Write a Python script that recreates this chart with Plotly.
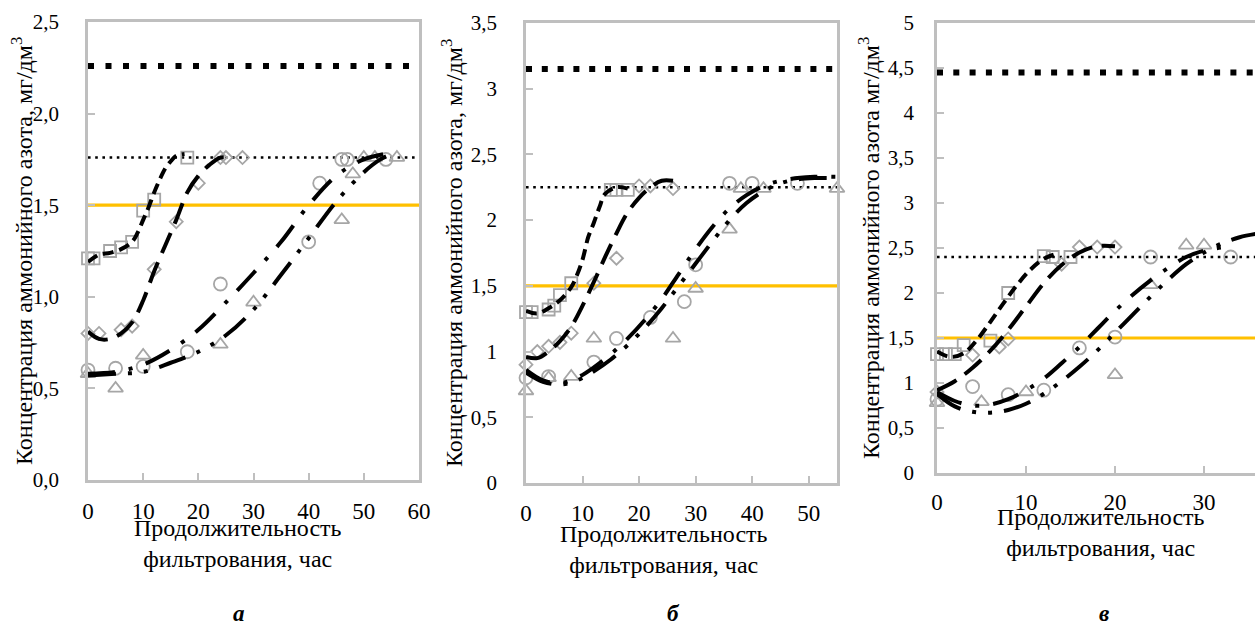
import plotly.graph_objects as go

# ---------------- DATA ----------------
# Panel a
a_sq_t = [0, 1, 4, 6, 8, 10, 12, 18]
a_sq_v = [1.21, 1.21, 1.25, 1.27, 1.30, 1.47, 1.53, 1.76]
a_di_t = [0, 2, 6, 8, 12, 16, 20, 24, 25, 28]
a_di_v = [0.80, 0.80, 0.82, 0.84, 1.15, 1.41, 1.62, 1.76, 1.76, 1.76]
a_ci_t = [0, 5, 10, 18, 24, 40, 42, 46, 47, 54]
a_ci_v = [0.60, 0.61, 0.62, 0.70, 1.07, 1.30, 1.62, 1.75, 1.75, 1.75]
a_tr_t = [0, 5, 10, 24, 30, 46, 48, 50, 52, 56]
a_tr_v = [0.58, 0.50, 0.68, 0.74, 0.97, 1.42, 1.67, 1.76, 1.76, 1.76]
a_sq_fit_t = [0, 2, 4, 6, 8, 9, 10, 11, 12, 13, 14, 15, 16, 17.5]
a_sq_fit_v = [1.19, 1.23, 1.24, 1.26, 1.30, 1.35, 1.42, 1.49, 1.57, 1.64, 1.70, 1.74, 1.77, 1.78]
a_di_fit_t = [0, 2, 4, 6, 8, 10, 12, 14, 16, 18, 20, 22, 24, 25.5]
a_di_fit_v = [0.81, 0.77, 0.77, 0.80, 0.86, 0.98, 1.14, 1.28, 1.42, 1.57, 1.66, 1.72, 1.76, 1.76]
a_ci_fit_t = [0, 5, 10, 15, 20, 25, 30, 35, 40, 45, 50, 56]
a_ci_fit_v = [0.58, 0.59, 0.63, 0.71, 0.82, 0.97, 1.13, 1.30, 1.50, 1.66, 1.75, 1.79]
a_tr_fit_t = [0, 5, 10, 15, 20, 25, 30, 35, 40, 45, 50, 53, 56]
a_tr_fit_v = [0.57, 0.58, 0.59, 0.64, 0.70, 0.79, 0.93, 1.12, 1.32, 1.52, 1.68, 1.75, 1.79]
a_levels = [2.26, 1.76, 1.5]

# Panel b
b_sq_t = [0, 1, 4, 5, 6, 8, 15, 16, 18]
b_sq_v = [1.30, 1.30, 1.32, 1.35, 1.43, 1.52, 2.23, 2.23, 2.23]
b_di_t = [0, 2, 4, 6, 8, 12, 16, 20, 22, 26]
b_di_v = [0.90, 1.00, 1.04, 1.07, 1.14, 1.52, 1.71, 2.26, 2.26, 2.24]
b_ci_t = [0, 4, 12, 16, 22, 28, 30, 36, 40, 48]
b_ci_v = [0.80, 0.81, 0.92, 1.10, 1.26, 1.38, 1.66, 2.28, 2.28, 2.28]
b_tr_t = [0, 4, 8, 12, 26, 30, 36, 38, 42, 55]
b_tr_v = [0.70, 0.80, 0.81, 1.10, 1.10, 1.48, 1.93, 2.24, 2.24, 2.24]
b_sq_fit_t = [0, 2, 4, 6, 8, 9, 10, 11, 12, 13, 14, 16, 18]
b_sq_fit_v = [1.31, 1.29, 1.33, 1.39, 1.49, 1.58, 1.70, 1.87, 1.98, 2.10, 2.20, 2.25, 2.24]
b_di_fit_t = [0, 2, 4, 6, 8, 10, 12, 14, 16, 18, 20, 22, 24, 26]
b_di_fit_v = [0.96, 0.95, 1.00, 1.08, 1.19, 1.35, 1.53, 1.72, 1.90, 2.06, 2.17, 2.25, 2.30, 2.30]
b_ci_fit_t = [0, 3, 6, 9, 12, 15, 18, 21, 24, 27, 30, 33, 36, 39, 42, 45, 48, 51, 55]
b_ci_fit_v = [0.86, 0.78, 0.76, 0.80, 0.88, 0.98, 1.10, 1.24, 1.40, 1.59, 1.78, 1.95, 2.09, 2.19, 2.26, 2.30, 2.32, 2.33, 2.33]
b_tr_fit_t = [0, 3, 6, 9, 12, 15, 18, 21, 24, 27, 30, 33, 36, 39, 42, 45, 48, 51, 55]
b_tr_fit_v = [0.84, 0.77, 0.75, 0.78, 0.85, 0.94, 1.05, 1.18, 1.33, 1.50, 1.67, 1.84, 2.00, 2.13, 2.22, 2.28, 2.31, 2.32, 2.32]
b_levels = [3.15, 2.25, 1.5]

# Panel c
c_sq_t = [0, 1, 2, 3, 6, 8, 12, 13, 15]
c_sq_v = [1.32, 1.32, 1.32, 1.42, 1.47, 2.00, 2.41, 2.40, 2.40]
c_di_t = [0, 4, 7, 8, 14, 16, 18, 20]
c_di_v = [0.90, 1.31, 1.40, 1.49, 2.32, 2.51, 2.51, 2.51]
c_ci_t = [0, 4, 8, 12, 16, 20, 24, 33]
c_ci_v = [0.82, 0.96, 0.87, 0.92, 1.39, 1.51, 2.40, 2.40]
c_tr_t = [0, 5, 10, 20, 24, 28, 30, 36]
c_tr_v = [0.78, 0.79, 0.90, 1.09, 2.09, 2.53, 2.53, 2.52]
c_sq_fit_t = [0, 1.5, 3, 4.5, 6, 7.5, 9, 10.5, 12, 13.6]
c_sq_fit_v = [1.35, 1.29, 1.33, 1.48, 1.68, 1.89, 2.09, 2.26, 2.38, 2.44]
c_di_fit_t = [0, 2, 4, 6, 8, 10, 12, 14, 16, 18, 20]
c_di_fit_v = [0.92, 1.02, 1.17, 1.36, 1.59, 1.85, 2.11, 2.31, 2.45, 2.52, 2.52]
c_ci_fit_t = [0, 2, 4, 6, 8, 10, 12, 14, 16, 18, 20, 22, 24, 26, 28, 30, 33]
c_ci_fit_v = [0.90, 0.80, 0.75, 0.76, 0.82, 0.92, 1.05, 1.22, 1.40, 1.60, 1.80, 1.98, 2.14, 2.28, 2.40, 2.47, 2.52]
c_tr_fit_t = [0, 2, 4, 6, 8, 10, 12, 14, 16, 18, 20, 22, 24, 26, 28, 30, 32, 34, 36]
c_tr_fit_v = [0.88, 0.74, 0.68, 0.67, 0.70, 0.77, 0.88, 1.02, 1.18, 1.36, 1.56, 1.76, 1.96, 2.15, 2.32, 2.45, 2.55, 2.62, 2.66]
c_levels = [4.45, 2.40, 1.5]

x_ranges = [[0, 60], [0, 55], [0, 35.73]]
y_ranges = [[0, 2.5], [0, 3.5], [0, 5]]
x_ticks = [[0, 10, 20, 30, 40, 50, 60], [0, 10, 20, 30, 40, 50], [0, 10, 20, 30]]
y_ticks = [[0, 0.5, 1, 1.5, 2, 2.5], [0, 0.5, 1, 1.5, 2, 2.5, 3, 3.5],
           [0, 0.5, 1, 1.5, 2, 2.5, 3, 3.5, 4, 4.5, 5]]
y_titles = ["Концентрация аммонийного азота, мг/дм<sup>3</sup>",
            "Концентрация аммонийного азота, мг/дм<sup>3</sup>",
            "Концентрация аммонийного азота мг/дм<sup>3</sup>"]
x_title = "Продолжительность<br>фильтрования, час"
panel_letters = ["а", "б", "в"]

# ---------------- STYLE ----------------
W, H = 1255, 621
FONT = "Liberation Serif"
GRAY = "#A6A6A6"
AXIS = "#BFBFBF"
ORANGE = "#FFC000"
FIT_W = 4
big_dot_dash = ["6px,11.5px", "6px,9.8px", "6px,10.3px"]
# pixel geometry of the three plot areas: (left, right, top, bottom)
boxes = [(88, 419, 22, 480), (526, 837, 23, 483), (937, 1255, 23, 473)]
ytitle_x = [22, 452, 869]
xtitle_pos = [(238, 513), (664, 519), (1101, 502)]
letter_pos = [(239, 613), (673, 613), (1104, 613)]
ytick_standoff = [22, 22, 16]
xtick_standoff = [9, 8, 7]

panels = [
    dict(sq=(a_sq_t, a_sq_v), di=(a_di_t, a_di_v), ci=(a_ci_t, a_ci_v), tr=(a_tr_t, a_tr_v),
         sqf=(a_sq_fit_t, a_sq_fit_v), dif=(a_di_fit_t, a_di_fit_v),
         cif=(a_ci_fit_t, a_ci_fit_v), trf=(a_tr_fit_t, a_tr_fit_v), lv=a_levels),
    dict(sq=(b_sq_t, b_sq_v), di=(b_di_t, b_di_v), ci=(b_ci_t, b_ci_v), tr=(b_tr_t, b_tr_v),
         sqf=(b_sq_fit_t, b_sq_fit_v), dif=(b_di_fit_t, b_di_fit_v),
         cif=(b_ci_fit_t, b_ci_fit_v), trf=(b_tr_fit_t, b_tr_fit_v), lv=b_levels),
    dict(sq=(c_sq_t, c_sq_v), di=(c_di_t, c_di_v), ci=(c_ci_t, c_ci_v), tr=(c_tr_t, c_tr_v),
         sqf=(c_sq_fit_t, c_sq_fit_v), dif=(c_di_fit_t, c_di_fit_v),
         cif=(c_ci_fit_t, c_ci_fit_v), trf=(c_tr_fit_t, c_tr_fit_v), lv=c_levels),
]

fig = go.Figure()
annotations = []
layout_axes = {}

for i, p in enumerate(panels):
    sfx = "" if i == 0 else str(i + 1)
    xa, ya = "x" + sfx, "y" + sfx
    xr = x_ranges[i]
    # horizontal reference levels
    hi, mid, norm = p["lv"]
    fig.add_trace(go.Scatter(x=xr, y=[hi, hi], xaxis=xa, yaxis=ya, mode="lines",
                             line=dict(color="black", width=6, dash=big_dot_dash[i]),
                             cliponaxis=False, hoverinfo="skip"))
    fig.add_trace(go.Scatter(x=xr, y=[mid, mid], xaxis=xa, yaxis=ya, mode="lines",
                             line=dict(color="black", width=2.6, dash="2.6px,4.6px"),
                             hoverinfo="skip"))
    fig.add_trace(go.Scatter(x=xr, y=[norm, norm], xaxis=xa, yaxis=ya, mode="lines",
                             line=dict(color=ORANGE, width=3.2), hoverinfo="skip"))
    # measured points
    for key, sym, size in [("sq", "square-open", 12), ("di", "diamond-open", 10),
                           ("ci", "circle-open", 13), ("tr", "triangle-up-open", 13)]:
        t, v = p[key]
        fig.add_trace(go.Scatter(x=t, y=v, xaxis=xa, yaxis=ya, mode="markers",
                                 marker=dict(symbol=sym, size=size, color=GRAY,
                                             line=dict(color=GRAY, width=1.8)),
                                 cliponaxis=False))
    # trend lines
    for key, dash in [("sqf", "11px,6px"), ("dif", "22px,10px"),
                      ("cif", "27px,14px,4px,14px"),
                      ("trf", "28px,12px,4px,12px,4px,12px")]:
        t, v = p[key]
        fig.add_trace(go.Scatter(x=t, y=v, xaxis=xa, yaxis=ya, mode="lines",
                                 line=dict(color="black", width=FIT_W, dash=dash,
                                           shape="spline", smoothing=1.0),
                                 cliponaxis=False, hoverinfo="skip"))

    l, r, t_, b = boxes[i]
    dx = [l / W, r / W]
    dy = [1 - b / H, 1 - t_ / H]
    xkey = "xaxis" + sfx
    ykey = "yaxis" + sfx
    layout_axes[xkey] = dict(domain=dx, range=xr, anchor=ya, tickvals=x_ticks[i],
                             automargin=False,
                             ticks="inside", ticklen=7, tickwidth=1.5, tickcolor=AXIS,
                             showline=True, linecolor=AXIS, linewidth=2.5, mirror=True,
                             showgrid=False, zeroline=False,
                             ticklabelstandoff=xtick_standoff[i],
                             tickfont=dict(family=FONT, size=23, color="black"))
    layout_axes[ykey] = dict(domain=dy, range=y_ranges[i], anchor=xa, tickvals=y_ticks[i],
                             automargin=False,
                             tickformat=".1f" if i == 0 else "",
                             ticks="inside", ticklen=7, tickwidth=1.5, tickcolor=AXIS,
                             showline=True, linecolor=AXIS, linewidth=2.5,
                             mirror=(i != 2), showgrid=False, zeroline=False,
                             ticklabelstandoff=ytick_standoff[i],
                             tickfont=dict(family=FONT, size=21, color="black"))
    annotations.append(dict(text=y_titles[i], xref="paper", yref="paper",
                            x=ytitle_x[i] / W, y=1 - (t_ + b) / 2 / H, textangle=-90,
                            xanchor="center", yanchor="middle", showarrow=False,
                            font=dict(family=FONT, size=24, color="black")))
    annotations.append(dict(text=x_title, xref="paper", yref="paper",
                            x=xtitle_pos[i][0] / W, y=1 - xtitle_pos[i][1] / H,
                            xanchor="center", yanchor="top", showarrow=False,
                            font=dict(family=FONT, size=24, color="black")))
    annotations.append(dict(text="<b><i>" + panel_letters[i] + "</i></b>", xref="paper",
                            yref="paper", x=letter_pos[i][0] / W, y=1 - letter_pos[i][1] / H,
                            xanchor="center", yanchor="middle", showarrow=False,
                            font=dict(family=FONT, size=23, color="black")))

fig.update_layout(width=W, height=H, margin=dict(l=0, r=0, t=0, b=0),
                  paper_bgcolor="white", plot_bgcolor="white", showlegend=False,
                  separators=", ", annotations=annotations, **layout_axes)
fig.write_html("out.html", config={"displayModeBar": False},
               post_script="document.body.style.margin='0px';")
